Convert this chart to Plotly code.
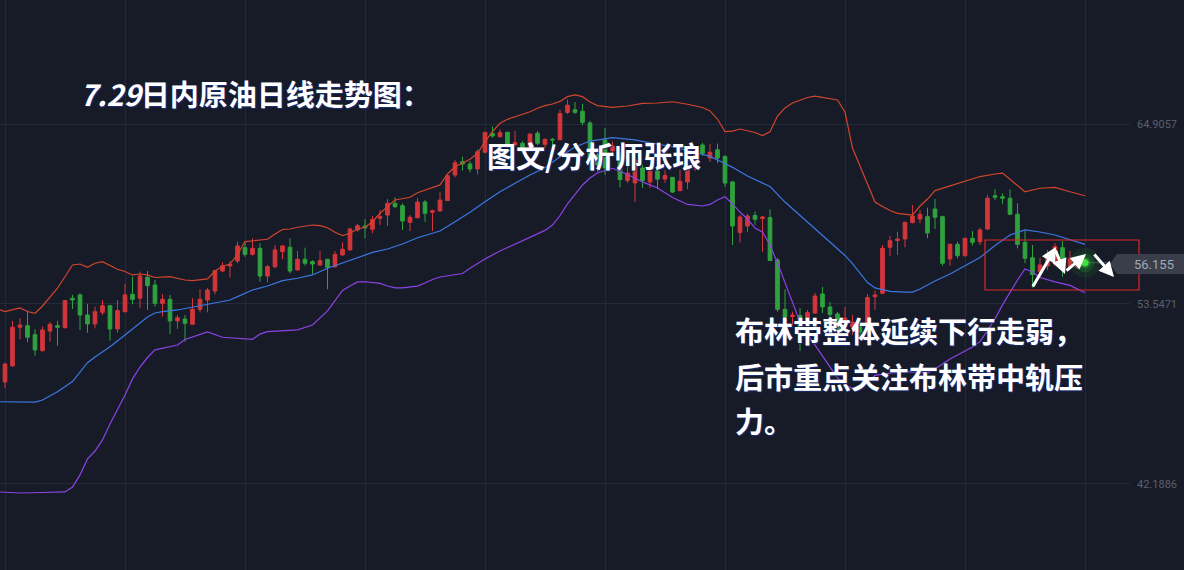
import plotly.graph_objects as go

# ---------------- data ----------------
idx = list(range(145))

opens = [48.63, 49.64, 52.08, 52.18, 51.61, 50.60, 51.84, 52.18, 52.05, 53.91,
         54.12, 52.85, 52.29, 53.02, 53.44, 51.97, 53.06, 54.16, 53.91, 55.23,
         54.75, 53.59, 53.84, 52.48, 52.60, 52.27, 53.21, 53.80, 54.37, 55.63,
         55.95, 56.26, 57.10, 56.68, 57.06, 55.31, 55.90, 56.85, 57.13, 55.69,
         56.37, 56.22, 56.01, 56.37, 55.90, 56.64, 56.96, 58.22, 58.47, 58.26,
         58.96, 59.16, 59.90, 59.75, 58.70, 58.99, 59.98, 59.33, 59.42, 60.07,
         61.69, 62.53, 62.38, 62.07, 63.12, 64.32, 64.10, 64.38, 63.58, 63.69,
         63.47, 64.32, 63.62, 63.94, 63.91, 65.64, 65.81, 65.71, 64.97, 62.95,
         63.90, 63.22, 62.95, 61.34, 61.18, 62.13, 61.25, 61.94, 61.43, 61.54,
         60.70, 61.25, 62.19, 63.58, 62.76, 63.28, 62.85, 61.25, 58.06, 58.47,
         59.13, 58.94, 59.00, 56.32, 53.21, 52.76, 52.82, 52.38, 52.98, 54.18,
         53.36, 52.92, 52.10, 52.10, 52.29, 52.13, 54.01, 54.22, 57.13, 57.55,
         57.65, 58.68, 58.91, 59.06, 59.54, 59.06, 56.39, 57.31, 56.60, 57.69,
         57.48, 58.28, 60.38, 60.32, 60.22, 59.21, 57.44, 56.47, 55.57, 55.95,
         56.07, 57.10, 55.91, 55.86, 56.19]
highs = [49.84, 52.48, 52.65, 53.13, 51.95, 52.12, 52.41, 52.48, 53.80, 54.12,
         54.22, 53.55, 53.38, 53.80, 53.49, 53.80, 54.81, 55.27, 55.59, 55.63,
         55.06, 54.18, 54.12, 52.85, 52.85, 53.91, 54.48, 54.54, 55.69, 56.18,
         56.26, 57.48, 57.48, 57.69, 57.38, 56.01, 57.27, 57.27, 57.69, 56.89,
         57.10, 56.32, 56.89, 56.39, 56.89, 57.44, 58.36, 58.60, 58.89, 59.10,
         59.48, 60.17, 60.28, 59.90, 59.16, 60.22, 60.11, 59.50, 60.60, 61.69,
         62.63, 62.84, 62.57, 63.31, 64.40, 64.74, 64.57, 64.42, 64.48, 63.83,
         64.32, 64.46, 63.98, 64.02, 65.81, 66.44, 66.29, 66.17, 65.10, 63.39,
         64.65, 63.79, 63.14, 62.44, 62.89, 62.32, 62.26, 62.13, 62.00, 61.56,
         62.02, 62.26, 63.39, 63.71, 63.64, 63.67, 62.95, 61.31, 59.16, 59.23,
         59.38, 59.10, 59.52, 56.45, 54.47, 53.06, 53.29, 53.17, 54.24, 54.62,
         53.67, 53.04, 53.36, 52.85, 52.66, 54.18, 54.39, 57.27, 57.84, 58.11,
         58.74, 59.79, 59.48, 59.62, 60.17, 59.12, 57.38, 57.48, 57.73, 58.15,
         58.36, 60.43, 60.80, 60.53, 60.78, 59.90, 58.15, 57.27, 56.45, 56.96,
         57.38, 57.52, 56.89, 56.20, 56.22]
lows = [48.25, 49.59, 51.32, 51.13, 50.29, 50.54, 51.17, 50.92, 52.01, 53.23,
        51.91, 51.74, 52.01, 52.85, 51.23, 51.74, 53.02, 53.53, 53.28, 53.17,
        53.38, 52.75, 51.65, 51.97, 51.17, 52.22, 53.02, 53.02, 54.16, 55.55,
        55.21, 56.12, 56.53, 56.60, 54.95, 54.92, 55.80, 56.37, 55.49, 55.65,
        55.96, 55.42, 55.96, 54.48, 55.84, 56.60, 56.91, 58.11, 57.69, 58.01,
        58.53, 58.47, 59.59, 58.22, 58.15, 58.96, 58.74, 58.15, 59.37, 60.05,
        61.54, 61.96, 61.86, 61.73, 63.06, 64.04, 64.07, 63.47, 63.55, 63.27,
        63.44, 63.58, 63.37, 63.58, 63.90, 65.54, 65.54, 64.82, 62.00, 61.88,
        61.69, 63.08, 60.91, 61.18, 59.98, 60.87, 60.87, 60.80, 61.18, 60.55,
        60.66, 60.80, 61.94, 62.89, 62.51, 62.44, 60.93, 57.27, 57.42, 58.09,
        58.53, 56.85, 56.25, 53.06, 52.65, 52.22, 50.58, 52.10, 52.92, 52.98,
        52.66, 50.96, 51.91, 51.59, 51.46, 52.10, 53.17, 54.18, 56.58, 56.64,
        57.13, 58.64, 58.64, 57.69, 58.28, 55.96, 55.96, 56.43, 56.53, 57.23,
        57.27, 58.22, 60.11, 59.84, 59.16, 57.06, 56.12, 54.58, 55.19, 55.69,
        55.95, 55.27, 55.88, 55.76, 56.10]
closes = [49.76, 52.08, 52.22, 51.45, 50.65, 51.91, 52.27, 52.08, 53.76, 53.80,
          52.85, 52.29, 53.06, 53.44, 51.97, 53.13, 54.12, 53.84, 55.31, 54.70,
          53.59, 53.84, 52.48, 52.68, 52.33, 53.21, 53.84, 54.43, 55.65, 55.96,
          56.05, 57.21, 56.68, 57.06, 55.31, 55.90, 56.96, 57.21, 55.63, 56.37,
          56.12, 56.07, 56.28, 55.86, 56.68, 57.00, 58.28, 58.49, 58.36, 58.89,
          59.06, 59.90, 59.69, 58.79, 59.02, 59.98, 59.27, 59.43, 60.11, 61.64,
          62.46, 62.38, 62.07, 63.16, 64.38, 64.15, 64.36, 63.54, 63.73, 63.37,
          64.27, 63.69, 63.94, 63.90, 65.56, 66.09, 65.64, 65.01, 62.44, 62.32,
          62.13, 63.52, 61.40, 61.81, 62.63, 61.33, 61.94, 61.43, 61.66, 60.61,
          61.29, 62.13, 62.95, 63.06, 63.12, 62.76, 61.18, 58.47, 59.04, 59.10,
          58.89, 59.04, 56.29, 53.21, 52.75, 52.85, 52.12, 53.00, 54.05, 53.36,
          52.88, 51.97, 52.66, 52.41, 51.78, 53.96, 54.12, 57.06, 57.54, 57.65,
          58.70, 59.10, 59.21, 58.03, 59.02, 56.12, 57.31, 56.60, 57.69, 57.44,
          58.22, 60.22, 60.28, 60.22, 59.21, 57.31, 56.43, 55.41, 56.01, 56.64,
          57.16, 55.82, 56.39, 56.12, 56.155]

# Bollinger bands (values read at the candle indices listed)
up_idx = [-1, 0, 2, 3, 4, 5, 7, 9, 10, 11, 12, 13, 15, 16, 17, 18, 19, 20, 22, 24,
          25, 27, 28, 29, 30, 31, 32, 33, 35, 36, 37, 38, 39, 41, 42, 43, 44, 45, 46, 47,
          48, 49, 50, 51, 52, 54, 55, 58, 59, 60, 61, 62, 63, 64, 65, 66, 67, 68, 69, 70,
          71, 72, 73, 74, 75, 76, 77, 78, 79, 81, 83, 85, 87, 89, 91, 93, 94, 95, 96, 97,
          98, 99, 100, 101, 102, 103, 104, 105, 106, 107, 108, 110, 111, 112, 113, 114, 115, 116, 117, 118,
          119, 121, 122, 123, 124, 126, 128, 130, 132, 133, 134, 136, 138, 140, 142, 144]
up_val = [53.23, 53.07, 53.30, 53.07, 52.96, 53.42, 54.54, 56.01, 56.07, 55.86, 56.12, 56.22, 55.74, 55.60, 55.38, 55.44, 55.38, 55.22, 55.27, 55.06,
          55.02, 55.13, 55.63, 55.93, 56.07, 56.67, 57.48, 57.52, 57.63, 57.96, 58.25, 58.28, 58.39, 58.53, 58.49, 58.36, 58.07, 57.86, 58.01, 58.28,
          58.39, 58.74, 59.27, 59.69, 60.11, 60.28, 60.57, 61.06, 61.75, 62.21, 62.46, 62.68, 63.06, 63.79, 64.42, 64.95, 65.20, 65.37, 65.52, 65.68,
          65.90, 66.06, 66.17, 66.33, 66.63, 66.74, 66.63, 66.29, 66.07, 65.96, 66.04, 66.21, 66.23, 66.31, 66.15, 65.95, 65.73, 65.22, 64.42, 64.46,
          64.59, 64.50, 64.37, 64.18, 64.42, 65.41, 65.92, 66.23, 66.42, 66.58, 66.67, 66.51, 66.42, 65.66, 63.39, 62.26, 61.06, 59.98, 59.70, 59.45,
          59.27, 59.16, 59.73, 60.17, 60.70, 60.99, 61.31, 61.59, 61.75, 61.81, 61.42, 60.63, 60.85, 60.91, 60.63, 60.38]

mid_idx = [-1, 2, 4, 5, 7, 9, 11, 12, 14, 16, 18, 19, 20, 21, 23, 25, 27, 30, 31, 33,
           35, 37, 39, 41, 43, 45, 47, 49, 51, 53, 55, 57, 58, 60, 62, 64, 66, 68, 70, 72,
           74, 76, 78, 81, 84, 86, 89, 92, 94, 96, 97, 99, 102, 104, 106, 108, 110, 112, 113, 114,
           115, 116, 118, 120, 121, 122, 124, 126, 128, 130, 132, 134, 136, 138, 140, 142, 144]
mid_val = [47.38, 47.38, 47.35, 47.49, 48.01, 48.65, 49.84, 50.20, 50.85, 51.59, 52.33, 52.73, 52.98, 53.06, 53.17, 53.34, 53.52, 53.80, 54.01, 54.43,
           54.68, 55.02, 55.17, 55.38, 55.80, 56.15, 56.49, 56.80, 57.02, 57.33, 57.73, 58.00, 58.15, 58.74, 59.33, 60.00, 60.63, 61.16, 61.69, 62.15,
           62.84, 63.45, 63.83, 64.04, 63.90, 63.71, 63.47, 63.11, 62.86, 62.41, 62.17, 61.62, 60.96, 59.98, 59.13, 58.28, 57.46, 56.61, 56.10, 55.50,
           54.90, 54.56, 54.34, 54.29, 54.30, 54.49, 55.00, 55.44, 55.95, 56.48, 57.24, 57.90, 58.22, 58.09, 57.90, 57.62, 57.31]

low_idx = [-1, 2, 5, 8, 9, 10, 11, 12, 13, 14, 16, 17, 18, 19, 20, 22, 23, 24, 27, 29,
           33, 34, 35, 39, 41, 43, 45, 46, 47, 48, 50, 51, 52, 53, 55, 56, 57, 58, 60, 61,
           62, 64, 66, 68, 70, 72, 73, 74, 75, 76, 77, 78, 79, 81, 83, 85, 87, 89, 91, 93,
           94, 95, 96, 97, 98, 99, 100, 101, 102, 103, 104, 105, 106, 107, 108, 109, 110, 111, 112, 113,
           114, 115, 116, 118, 120, 122, 123, 124, 126, 127, 129, 130, 131, 132, 133, 134, 135, 136, 137, 138,
           140, 142, 143, 144]
low_val = [41.69, 41.62, 41.65, 41.69, 42.00, 42.76, 43.77, 44.27, 44.97, 45.98, 47.81, 48.82, 49.57, 50.17, 50.65, 50.83, 50.96, 51.31, 51.78, 51.45,
           51.32, 51.65, 51.80, 51.91, 52.22, 53.11, 54.40, 54.68, 54.94, 54.95, 54.85, 54.68, 54.56, 54.56, 54.68, 54.87, 55.09, 55.25, 55.41, 55.47,
           55.80, 56.39, 56.89, 57.33, 57.78, 58.19, 58.53, 59.13, 59.86, 60.46, 61.06, 61.50, 61.81, 62.11, 61.72, 61.25, 60.87, 60.27, 59.83, 59.73,
           59.83, 60.11, 60.32, 59.86, 59.35, 58.91, 58.34, 58.09, 57.27, 56.14, 54.87, 53.61, 52.41, 51.65, 50.96, 50.27, 49.51, 48.88, 48.44, 48.22,
           48.17, 48.63, 49.04, 49.19, 49.28, 49.23, 49.19, 49.45, 50.08, 50.33, 50.83, 51.17, 51.91, 52.60, 53.49, 54.31, 55.06, 55.76, 55.57, 55.22,
           54.94, 54.72, 54.49, 54.26]

last_price = 56.155
ytick_vals = [42.1886, 53.5471, 64.9057]
ytick_text = ["42.1886", "53.5471", "64.9057"]
grid_x = list(range(0, 145, 16))

title_text = "<i>7.29</i>日内原油日线走势图："
author_text = "图文/分析师张琅"
comment_lines = ["布林带整体延续下行走弱，", "后市重点关注布林带中轨压", "力。"]

# ---------------- figure ----------------
BG = "#171b28"
GRID = "#242938"
W, H = 1184, 570
PLOT_W = 1130

fig = go.Figure()

fig.add_trace(go.Scatter(x=up_idx, y=up_val, mode="lines",
                         line=dict(color="#d2452c", width=1.2), hoverinfo="skip", showlegend=False))
fig.add_trace(go.Scatter(x=mid_idx, y=mid_val, mode="lines",
                         line=dict(color="#3b78e2", width=1.2), hoverinfo="skip", showlegend=False))
fig.add_trace(go.Scatter(x=low_idx, y=low_val, mode="lines",
                         line=dict(color="#8c43e6", width=1.2), hoverinfo="skip", showlegend=False))

fig.add_trace(go.Candlestick(
    x=idx, open=opens, high=highs, low=lows, close=closes,
    increasing=dict(line=dict(color="#d3363a", width=1), fillcolor="#d3363a"),
    decreasing=dict(line=dict(color="#2fa23e", width=1), fillcolor="#2fa23e"),
    whiskerwidth=0, showlegend=False))

# glowing last-price dot
for size, col in [(30, "rgba(40,190,40,0.10)"), (19, "rgba(40,200,40,0.18)"),
                  (11, "rgba(50,210,50,0.35)"), (7, "#3fe03f")]:
    fig.add_trace(go.Scatter(x=[idx[-1]], y=[last_price], mode="markers",
                             marker=dict(size=size, color=col, line=dict(width=0)),
                             hoverinfo="skip", showlegend=False))

def px_x(p):
    return p / PLOT_W

def px_y(p):
    return 1 - p / H

shapes = []
# red rectangle
shapes.append(dict(type="rect", xref="paper", yref="paper",
                   x0=px_x(985), x1=px_x(1139), y0=px_y(290), y1=px_y(240),
                   line=dict(color="#e02828", width=1.2), fillcolor="rgba(0,0,0,0)", layer="above"))
# last price line
shapes.append(dict(type="line", xref="paper", yref="y",
                   x0=px_x(1088), x1=px_x(1110), y0=last_price, y1=last_price,
                   line=dict(color="#4a4f5c", width=1), layer="below"))
# price label box with pointer
shapes.append(dict(type="path", xref="paper", yref="paper",
                   path=f"M {px_x(1110)},{px_y(264)} L {px_x(1117)},{px_y(254)} L {px_x(1184)},{px_y(254)} "
                        f"L {px_x(1184)},{px_y(274)} L {px_x(1117)},{px_y(274)} Z",
                   fillcolor="#3a3e4b", line=dict(width=0), layer="above"))

annotations = []
font_cjk = "Noto Sans CJK SC, Noto Sans CJK JP, sans-serif"
txt_font = dict(family=font_cjk, size=26, color="white", weight="bold",
                shadow="1px 1px 1px #1b2f7a")
annotations.append(dict(text=title_text, xref="paper", yref="paper", x=px_x(78), y=px_y(93),
                        xanchor="left", yanchor="middle", showarrow=False,
                        font=dict(txt_font, size=29)))
annotations.append(dict(text=author_text, xref="paper", yref="paper", x=px_x(485), y=px_y(155),
                        xanchor="left", yanchor="middle", showarrow=False,
                        font=dict(txt_font, size=29)))
for k, (line, yy) in enumerate(zip(comment_lines, [330, 376, 420])):
    annotations.append(dict(text=line, xref="paper", yref="paper", x=px_x(733), y=px_y(yy),
                            xanchor="left", yanchor="middle", showarrow=False,
                            font=dict(txt_font, size=29)))

# price label text
annotations.append(dict(text=f"{last_price:.3f}", xref="paper", yref="paper", x=px_x(1176), y=px_y(264),
                        xanchor="right", yanchor="middle", showarrow=False,
                        font=dict(family="Roboto, sans-serif", size=13, color="#a3a7b2")))

# white arrows (tail -> head in pixels)
arrows = [((1032, 288), (1056, 247)), ((1055, 249), (1065, 274)),
          ((1065, 272), (1086, 254)), ((1093, 253), (1114, 277))]
for (tx, ty), (hx, hy) in arrows:
    annotations.append(dict(text="", xref="paper", yref="paper", x=px_x(hx), y=px_y(hy),
                            ax=tx - hx, ay=ty - hy, axref="pixel", ayref="pixel",
                            showarrow=True, arrowhead=2, arrowsize=1.0, arrowwidth=3,
                            arrowcolor="white"))

fig.update_layout(
    width=W, height=H,
    margin=dict(l=0, r=W - PLOT_W, t=0, b=0),
    paper_bgcolor=BG, plot_bgcolor=BG,
    shapes=shapes, annotations=annotations,
    showlegend=False,
    xaxis=dict(range=[-0.667, 150], tickmode="array", tickvals=grid_x, showticklabels=False,
               showgrid=True, gridcolor=GRID, gridwidth=1, zeroline=False, showline=False,
               ticks="", rangeslider=dict(visible=False), fixedrange=True),
    yaxis=dict(range=[36.761, 72.7304], side="right", tickmode="array",
               tickvals=ytick_vals, ticktext=ytick_text, showgrid=True, gridcolor=GRID,
               gridwidth=1, zeroline=False, showline=False, ticks="",
               tickfont=dict(family="Roboto, sans-serif", size=11, color="#5b606d"),
               ticklabelstandoff=6, automargin=False, fixedrange=True),
)

fig.write_html(
    "out.html",
    config={"displayModeBar": False},
    post_script="document.body.style.margin='0';document.body.style.background='" + BG + "';"
                "document.body.style.overflow='hidden';",
)
